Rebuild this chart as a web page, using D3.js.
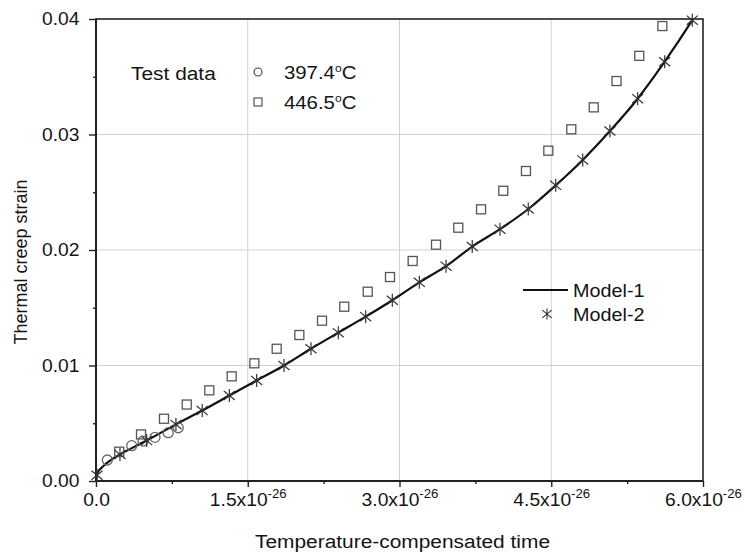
<html>
    <head>
        <title>Thermal creep strain</title>
        <script src="https://cdn.jsdelivr.net/npm/d3@7/dist/d3.min.js"></script>
        <style type="text/css">
            body{ margin: 0; background: #fff; }
            text{ font-family: "Liberation Sans", Arial, sans-serif; fill: #141414; }
        </style>
    </head>
    <body>
        <svg id="svg"></svg>
        <script type="text/javaScript">
            // tick values and labels (time in units of 1e-26)
            var xTicks = [0, 1.5, 3.0, 4.5, 6.0];
            var xTickLabels = ["0.0", "1.5x10", "3.0x10", "4.5x10", "6.0x10"];
            var xTickExps = ["", "-26", "-26", "-26", "-26"];
            var xMinor = [0.75, 2.25, 3.75, 5.25];
            var yTicks = [0, 0.01, 0.02, 0.03, 0.04];
            var yTickLabels = ["0.00", "0.01", "0.02", "0.03", "0.04"];
            var yMinor = [0.005, 0.015, 0.025, 0.035];

            // test data 397.4 C
            var t1Time = [0.112, 0.353, 0.465, 0.583, 0.714, 0.813];
            var t1Strain = [0.00182, 0.00306, 0.00346, 0.00378, 0.00418, 0.00461];

            // test data 446.5 C
            var t2Time = [0.230, 0.445, 0.672, 0.897, 1.120, 1.341, 1.565, 1.786, 2.010, 2.234, 2.454, 2.686, 2.906,
                          3.130, 3.361, 3.581, 3.806, 4.026, 4.250, 4.471, 4.698, 4.920, 5.145, 5.370, 5.598];
            var t2Strain = [0.00254, 0.00403, 0.00539, 0.00662, 0.00785, 0.00906, 0.01019, 0.01145, 0.01264, 0.01388,
                            0.01509, 0.01639, 0.01766, 0.01905, 0.02046, 0.02193, 0.02352, 0.02513, 0.02684, 0.02860,
                            0.03045, 0.03235, 0.03463, 0.03681, 0.03939];

            // Model-1 curve
            var m1Time = [0, 0.005, 0.02, 0.05, 0.1, 0.16, 0.237, 0.501, 0.79, 1.05, 1.318, 1.588, 1.858, 2.125, 2.395,
                          2.666, 2.929, 3.196, 3.46, 3.719, 3.993, 4.273, 4.544, 4.811, 5.08, 5.354, 5.621, 5.894, 5.93];
            var m1Strain = [0, 0.0004, 0.0008, 0.0011, 0.0015, 0.0019, 0.0023, 0.0035, 0.0049, 0.0061, 0.0074, 0.0087,
                            0.0100, 0.01145, 0.01284, 0.01423, 0.01565, 0.0172, 0.0186, 0.0203, 0.0218, 0.02355, 0.0256,
                            0.0278, 0.0303, 0.0331, 0.0363, 0.0399, 0.0404];

            // Model-2 points
            var m2Time = [0.01, 0.237, 0.501, 0.79, 1.05, 1.318, 1.588, 1.858, 2.125, 2.395, 2.666, 2.929, 3.196, 3.46,
                          3.719, 3.993, 4.273, 4.544, 4.811, 5.08, 5.354, 5.621, 5.894];
            var m2Strain = [0.0005, 0.0023, 0.0035, 0.0049, 0.0061, 0.0074, 0.0087, 0.0100, 0.01145, 0.01284, 0.01423,
                            0.01565, 0.0172, 0.0186, 0.0203, 0.0218, 0.02355, 0.0256, 0.0278, 0.0303, 0.0331, 0.0363, 0.0399];

            var svgWidth = 745;
            var svgHeight = 557;
            var margin = {left: 96, right: 42, top: 19, bottom: 76};
            var w = svgWidth - margin.left - margin.right;
            var h = svgHeight - margin.top - margin.bottom;

            // the source figure is a bit wide, so text is stretched
            var sx = 1.1;

            var svg = d3.select("svg")
                .attr("width", svgWidth)
                .attr("height", svgHeight);

            var xScale = d3.scaleLinear().domain([0, 6]).range([margin.left, margin.left + w]);
            var yScale = d3.scaleLinear().domain([0, 0.04]).range([margin.top + h, margin.top]);

            // grid
            svg.append("g").selectAll("line")
                .data(xTicks.slice(1, 4))
                .enter().append("line")
                .attr("x1", d => xScale(d)).attr("x2", d => xScale(d))
                .attr("y1", margin.top).attr("y2", margin.top + h)
                .attr("stroke", "#d2d2d2").attr("stroke-width", 1);
            svg.append("g").selectAll("line")
                .data(yTicks.slice(1, 4))
                .enter().append("line")
                .attr("y1", d => yScale(d)).attr("y2", d => yScale(d))
                .attr("x1", margin.left).attr("x2", margin.left + w)
                .attr("stroke", "#d2d2d2").attr("stroke-width", 1);

            // axes
            var xAxis = d3.axisBottom(xScale).tickValues(xTicks).tickSize(6).tickPadding(7)
                .tickFormat((d, i) => xTickLabels[i]);
            var gX = svg.append("g")
                .attr("transform", "translate(0," + (margin.top + h) + ")")
                .call(xAxis);
            gX.selectAll(".tick text").each(function(d, i){
                if (xTickExps[i]) {
                    d3.select(this).append("tspan").attr("dy", "-8").style("font-size", "12px").text(xTickExps[i]);
                }
            });
            svg.append("g")
                .attr("transform", "translate(0," + (margin.top + h) + ")")
                .call(d3.axisBottom(xScale).tickValues(xMinor).tickSize(3).tickFormat(""));

            var yAxis = d3.axisLeft(yScale).tickValues(yTicks).tickSize(7).tickPadding(8)
                .tickFormat((d, i) => yTickLabels[i]);
            var gY = svg.append("g")
                .attr("transform", "translate(" + margin.left + ",0)")
                .call(yAxis);
            svg.append("g")
                .attr("transform", "translate(" + margin.left + ",0)")
                .call(d3.axisLeft(yScale).tickValues(yMinor).tickSize(3).tickFormat(""));

            svg.selectAll(".domain").remove();
            svg.selectAll(".tick line").attr("stroke", "#222").attr("stroke-width", 1.4);
            svg.selectAll(".tick text")
                .style("font-size", "17.5px")
                .attr("fill", "#141414")
                .attr("transform", "scale(" + sx + ",1)");

            // frame
            svg.append("rect")
                .attr("x", margin.left).attr("y", margin.top)
                .attr("width", w).attr("height", h)
                .attr("fill", "none").attr("stroke", "#222").attr("stroke-width", 1.6);
            svg.append("line")
                .attr("x1", margin.left).attr("x2", margin.left + w)
                .attr("y1", margin.top + h).attr("y2", margin.top + h)
                .attr("stroke", "#222").attr("stroke-width", 2.2);
            svg.append("line")
                .attr("x1", margin.left).attr("x2", margin.left)
                .attr("y1", margin.top).attr("y2", margin.top + h)
                .attr("stroke", "#222").attr("stroke-width", 2);

            // axis titles
            function label(x, y, str, size){
                return svg.append("text")
                    .attr("transform", "translate(" + x + "," + y + ") scale(" + sx + ",1)")
                    .style("font-size", size + "px")
                    .text(str);
            }
            label(margin.left + w / 2 + 3, 548, "Temperature-compensated time", 19).attr("text-anchor", "middle");
            svg.append("text")
                .attr("transform", "translate(27," + 262 + ") rotate(-90)")
                .attr("text-anchor", "middle")
                .style("font-size", "18px")
                .text("Thermal creep strain");

            // clip
            svg.append("clipPath").attr("id", "clip")
                .append("rect").attr("x", margin.left).attr("y", margin.top).attr("width", w).attr("height", h);

            // Model-1 line
            var line = d3.line()
                .x(i => xScale(m1Time[i]))
                .y(i => yScale(m1Strain[i]))
                .curve(d3.curveMonotoneX);
            svg.append("path")
                .attr("clip-path", "url(#clip)")
                .attr("d", line(d3.range(m1Time.length)))
                .attr("fill", "none").attr("stroke", "#111").attr("stroke-width", 2.2);

            // asterisk symbol
            function star(cx, cy, s){
                var a = s * 0.85, b = s * 0.7;
                return "M" + cx + "," + (cy - s) + "L" + cx + "," + (cy + s) +
                       "M" + (cx - a) + "," + (cy - b) + "L" + (cx + a) + "," + (cy + b) +
                       "M" + (cx - a) + "," + (cy + b) + "L" + (cx + a) + "," + (cy - b);
            }

            // test data markers
            svg.append("g").selectAll("rect")
                .data(d3.range(t2Time.length))
                .enter().append("rect")
                .attr("x", i => xScale(t2Time[i]) - 4.5)
                .attr("y", i => yScale(t2Strain[i]) - 4.5)
                .attr("width", 9).attr("height", 9)
                .attr("fill", "none").attr("stroke", "#555").attr("stroke-width", 1.3);
            svg.append("g").selectAll("circle")
                .data(d3.range(t1Time.length))
                .enter().append("circle")
                .attr("cx", i => xScale(t1Time[i]))
                .attr("cy", i => yScale(t1Strain[i]))
                .attr("r", 5)
                .attr("fill", "none").attr("stroke", "#666").attr("stroke-width", 1.3);

            // Model-2 markers
            svg.append("g").selectAll("path")
                .data(d3.range(m2Time.length))
                .enter().append("path")
                .attr("d", i => star(xScale(m2Time[i]), yScale(m2Strain[i]), 6.5))
                .attr("fill", "none").attr("stroke", "#333").attr("stroke-width", 1.2);

            // legend: test data
            label(131, 80, "Test data", 19);
            svg.append("circle").attr("cx", 258).attr("cy", 72).attr("r", 4)
                .attr("fill", "none").attr("stroke", "#444").attr("stroke-width", 1.1);
            svg.append("rect").attr("x", 254).attr("y", 98).attr("width", 8).attr("height", 8)
                .attr("fill", "none").attr("stroke", "#444").attr("stroke-width", 1.1);
            var l1 = label(284, 79, "397.4", 18.5);
            l1.append("tspan").attr("dy", "-7").style("font-size", "11px").text("o");
            l1.append("tspan").attr("dy", "7").text("C");
            var l2 = label(284, 109, "446.5", 18.5);
            l2.append("tspan").attr("dy", "-7").style("font-size", "11px").text("o");
            l2.append("tspan").attr("dy", "7").text("C");

            // legend: models
            svg.append("line").attr("x1", 523).attr("x2", 568).attr("y1", 290).attr("y2", 290)
                .attr("stroke", "#111").attr("stroke-width", 2.2);
            label(573, 297, "Model-1", 18);
            svg.append("path").attr("d", star(547, 314, 5.5))
                .attr("fill", "none").attr("stroke", "#333").attr("stroke-width", 1.1);
            label(573, 321, "Model-2", 18);
        </script>
    </body>
</html>
